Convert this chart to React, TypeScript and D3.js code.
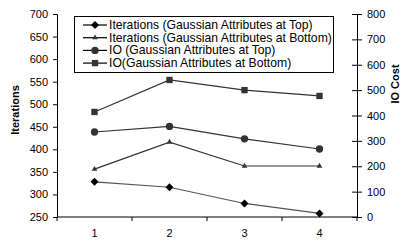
import React, { useEffect, useRef } from 'react';
import * as d3 from 'd3';

const categories = ['1', '2', '3', '4'];
const iterTop = [328, 316, 280, 258];
const iterBottom = [356, 416, 363, 363];
const ioTop = [335, 357, 308, 268];
const ioBottom = [414, 540, 500, 477];
const leftTicks = [250, 300, 350, 400, 450, 500, 550, 600, 650, 700];
const rightTicks = [0, 100, 200, 300, 400, 500, 600, 700, 800];

const legendLabels = [
    'Iterations (Gaussian Attributes at Top)',
    'Iterations (Gaussian Attributes at Bottom)',
    'IO (Gaussian Attributes at Top)',
    'IO(Gaussian Attributes at Bottom)',
];

const App: React.FC = () => {
    const svgRef = useRef<SVGSVGElement>(null);

    useEffect(() => {
        if (!svgRef.current) return;
        const svg = d3.select(svgRef.current);
        svg.selectAll('*').remove();

        const left = 57, right = 357, top = 14, bottom = 217;
        const font = 'Liberation Sans, Arial, sans-serif';

        const x = d3.scaleBand().domain(categories).range([left, right]);
        const yL = d3.scaleLinear().domain([250, 700]).range([bottom, top]);
        const yR = d3.scaleLinear().domain([0, 800]).range([bottom, top]);
        const cx = (i: number) => (x(categories[i]) ?? 0) + x.bandwidth() / 2;

        // left axis
        const gl = svg.append('g').attr('transform', `translate(${left},0)`)
            .call(d3.axisLeft(yL).tickValues(leftTicks).tickSize(4).tickPadding(5));
        // right axis
        const gr = svg.append('g').attr('transform', `translate(${right},0)`)
            .call(d3.axisRight(yR).tickValues(rightTicks).tickSize(5).tickPadding(5));
        gr.selectAll('.tick line').attr('x1', -5);
        // bottom axis
        const gb = svg.append('g').attr('transform', `translate(0,${bottom})`)
            .call(d3.axisBottom(x).tickSize(0).tickPadding(12));
        const edges = [left, ...categories.map(c => (x(c) ?? 0) + x.bandwidth())];
        gb.selectAll('.edge').data(edges).enter().append('line')
            .attr('x1', d => d).attr('x2', d => d).attr('y1', 0).attr('y2', 4)
            .attr('stroke', '#000');

        [gl, gr, gb].forEach(g => {
            g.select('.domain').attr('stroke', '#000');
            g.selectAll('.tick line').attr('stroke', '#000');
            g.selectAll('text').attr('font-family', font).attr('font-size', 11).attr('fill', '#000');
        });
        gb.select('.domain').attr('d', `M${left},0H${right}`);

        // axis titles
        svg.append('text')
            .attr('transform', `translate(19,110) rotate(-90)`)
            .attr('text-anchor', 'middle')
            .attr('font-family', font).attr('font-size', 11).attr('font-weight', 'bold')
            .text('Iterations');
        svg.append('text')
            .attr('transform', `translate(399,84) rotate(-90)`)
            .attr('text-anchor', 'middle')
            .attr('font-family', font).attr('font-size', 11).attr('font-weight', 'bold')
            .text('IO Cost');

        const series = [
            { values: iterTop, scale: yL, marker: 'diamond', line: '#555', fill: '#000' },
            { values: iterBottom, scale: yL, marker: 'triangle', line: '#333', fill: '#333' },
            { values: ioTop, scale: yR, marker: 'circle', line: '#333', fill: '#333' },
            { values: ioBottom, scale: yR, marker: 'square', line: '#333', fill: '#333' },
        ];

        const symbolFor = (m: string) => {
            if (m === 'diamond') return 'M0,-4L4,0L0,4L-4,0Z';
            if (m === 'triangle') return d3.symbol().type(d3.symbolTriangle).size(14)();
            if (m === 'circle') return d3.symbol().type(d3.symbolCircle).size(42)();
            return d3.symbol().type(d3.symbolSquare).size(40)();
        };

        series.forEach(s => {
            const line = d3.line<number>()
                .x((d, i) => cx(i))
                .y(d => s.scale(d));
            svg.append('path')
                .datum(s.values)
                .attr('fill', 'none')
                .attr('stroke', s.line)
                .attr('stroke-width', 1.2)
                .attr('d', line);
            svg.selectAll(null).data(s.values).enter().append('path')
                .attr('d', symbolFor(s.marker) ?? '')
                .attr('transform', (d, i) => `translate(${cx(i)},${s.scale(d)})`)
                .attr('fill', s.fill);
        });

        // legend
        const lg = svg.append('g');
        lg.append('rect')
            .attr('x', 74.5).attr('y', 16.5).attr('width', 259).attr('height', 56)
            .attr('fill', '#fff').attr('stroke', '#000');
        series.forEach((s, i) => {
            const yy = 25 + i * 12.7;
            lg.append('line')
                .attr('x1', 83).attr('x2', 107).attr('y1', yy).attr('y2', yy)
                .attr('stroke', '#000').attr('stroke-width', 1.2);
            lg.append('path')
                .attr('d', symbolFor(s.marker) ?? '')
                .attr('transform', `translate(95,${yy})`)
                .attr('fill', s.fill);
            lg.append('text')
                .attr('x', 109).attr('y', yy + 4)
                .attr('font-family', font).attr('font-size', 12.2)
                .text(legendLabels[i]);
        });
    }, []);

    return (
        <svg ref={svgRef} width={401} height={242}
            style={{ position: 'absolute', left: 0, top: 0, background: '#fff' }} />
    );
};

export default App;
